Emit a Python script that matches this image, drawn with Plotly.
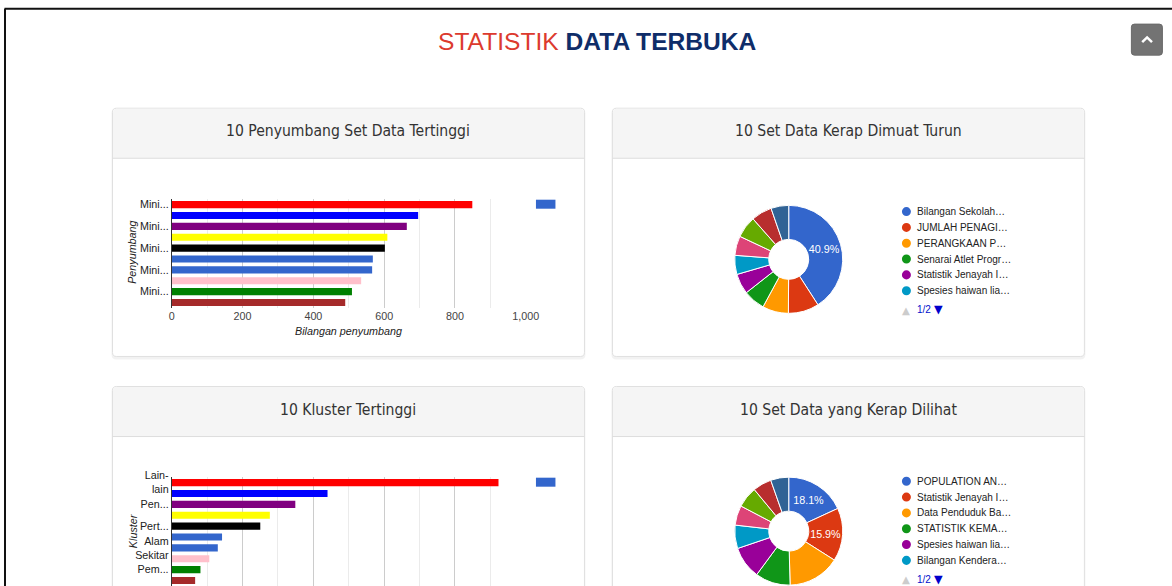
import plotly.graph_objects as go

W, H = 1186, 600

# ---------------- data ----------------
contributors = ["Penyumbang 1", "Penyumbang 2", "Penyumbang 3", "Penyumbang 4", "Penyumbang 5",
                "Penyumbang 6", "Penyumbang 7", "Penyumbang 8", "Penyumbang 9", "Penyumbang 10"]
contrib_values = [849, 696, 664, 609, 602, 568, 566, 535, 509, 490]
contrib_ticks = ["Mini...", "Mini...", "Mini...", "Mini...", "Mini..."]

clusters = ["Lain-lain", "Kluster 2", "Pen...", "Kluster 4", "Pert...",
            "Kluster 6", "Alam Sekitar", "Kluster 8", "Pem...", "Kluster 10"]
cluster_values = [92.3, 44.0, 34.9, 27.7, 25.0, 14.2, 13.0, 10.6, 8.1, 6.6]
cluster_ticks = ["Lain-<br>lain", "Pen...", "Pert...", "Alam<br>Sekitar", "Pem..."]

bar_colors = ["#ff0000", "#0000ff", "#800080", "#ffff00", "#000000",
              "#3366cc", "#3366cc", "#ffc0cb", "#008000", "#a52a2a"]

download_labels = ["Bilangan Sekolah…", "JUMLAH PENAGI…", "PERANGKAAN P…", "Senarai Atlet Progr…",
                   "Statistik Jenayah I…", "Spesies haiwan lia…", "Set data 7", "Set data 8",
                   "Set data 9", "Set data 10"]
download_values = [40.9, 9.2, 7.8, 6.5, 6.1, 5.7, 5.8, 6.5, 6.2, 5.3]

view_labels = ["POPULATION AN…", "Statistik Jenayah I…", "Data Penduduk Ba…", "STATISTIK KEMA…",
               "Spesies haiwan lia…", "Bilangan Kendera…", "Set data 7", "Set data 8",
               "Set data 9", "Set data 10"]
view_values = [18.1, 15.9, 15.6, 10.5, 9.7, 7.0, 5.9, 6.3, 5.6, 5.4]

pie_colors = ["#3366cc", "#dc3912", "#ff9900", "#109618", "#990099",
              "#0099c6", "#dd4477", "#66aa00", "#b82e2e", "#316395"]

card_titles = ["10 Penyumbang Set Data Tertinggi", "10 Set Data Kerap Dimuat Turun",
               "10 Kluster Tertinggi", "10 Set Data yang Kerap Dilihat"]

# ---------------- helpers (positions given in photographed-picture pixels) ----------------
AX, BX = 0.9866, 2.5
AY, BY = 0.964, 7.9
FS = 1.025


def px(x):
    return ((x - BX) / AX) / W


def py(y):
    return 1 - ((y - BY) / AY) / H


def rrect_path(x0, y0, x1, y1, r, top_only=False):
    rb = 0 if top_only else r
    pts = (f"M{px(x0 + r)},{py(y0)} L{px(x1 - r)},{py(y0)} Q{px(x1)},{py(y0)} {px(x1)},{py(y0 + r)} "
           f"L{px(x1)},{py(y1 - rb)} Q{px(x1)},{py(y1)} {px(x1 - rb)},{py(y1)} "
           f"L{px(x0 + rb)},{py(y1)} Q{px(x0)},{py(y1)} {px(x0)},{py(y1 - rb)} "
           f"L{px(x0)},{py(y0 + r)} Q{px(x0)},{py(y0)} {px(x0 + r)},{py(y0)} Z")
    return pts


def note(text, x, y, size, color="#222222", family="Liberation Sans, Arial", xanchor="center", **kw):
    return dict(text=text, x=px(x), y=py(y), xref="paper", yref="paper", showarrow=False,
                xanchor=xanchor, yanchor="middle", font=dict(family=family, size=size * FS, color=color), **kw)


shapes = []
annotations = []

# outer page border (top & left)
shapes.append(dict(type="line", xref="paper", yref="paper", x0=px(4), x1=1, y0=0.9985, y1=0.9985,
                   line=dict(color="#111111", width=2)))
shapes.append(dict(type="line", xref="paper", yref="paper", x0=px(4.5), x1=px(4.5), y0=0.9985, y1=0,
                   line=dict(color="#111111", width=2)))

# page title
annotations.append(note(
    "<span style='color:#dc3a2e'>STATISTIK</span> <b><span style='color:#0f2d69'>DATA TERBUKA</span></b>",
    597.5, 41, 24))

# scroll-to-top button
shapes.append(dict(type="path", xref="paper", yref="paper", path=rrect_path(1131, 24, 1162, 55, 3),
                   fillcolor="#737373", line=dict(color="#6a6a6a", width=1), layer="above"))
shapes.append(dict(type="path", xref="paper", yref="paper",
                   path=f"M{px(1141.8)},{py(42)} L{px(1146.7)},{py(37.3)} L{px(1151.6)},{py(42)}",
                   line=dict(color="#ffffff", width=2.5), layer="above"))

# cards
cards = [(112, 108, 584, 356), (612, 108, 1084, 356), (112, 386, 584, 640), (612, 386, 1084, 640)]
for (x0, y0, x1, y1), title in zip(cards, card_titles):
    shapes.append(dict(type="path", xref="paper", yref="paper", path=rrect_path(x0 - 1, y0, x1 + 1, y1 + 3, 5),
                       fillcolor="rgba(0,0,0,0.05)", line=dict(width=0), layer="below"))
    shapes.append(dict(type="path", xref="paper", yref="paper", path=rrect_path(x0, y0, x1, y1, 4),
                       fillcolor="#ffffff", line=dict(color="#e0e0e0", width=1), layer="below"))
    shapes.append(dict(type="path", xref="paper", yref="paper", path=rrect_path(x0 + 0.5, y0 + 0.5, x1 - 0.5, y0 + 50, 4, top_only=True),
                       fillcolor="#f5f5f5", line=dict(width=0), layer="below"))
    shapes.append(dict(type="line", xref="paper", yref="paper", x0=px(x0), x1=px(x1), y0=py(y0 + 50), y1=py(y0 + 50),
                       line=dict(color="#dddddd", width=1), layer="below"))
    annotations.append(note(title, (x0 + x1) / 2, y0 + 23, 15.2, "#333333",
                            "DejaVu Sans Condensed, Liberation Sans Narrow, Arial"))

fig = go.Figure()

# ---------------- bar charts ----------------
bar_specs = [
    dict(cats=contributors, vals=contrib_values, ticks=contrib_ticks, top=198.9, rng=[0, 1000], dt=200,
         mdt=100, xa="x", ya="y", ytitle="Penyumbang", xtitle="Bilangan penyumbang", ytc=252,
         xtickcolor="#444444"),
    dict(cats=clusters, vals=cluster_values, ticks=cluster_ticks, top=476.6, rng=[0, 100], dt=20,
         mdt=10, xa="x2", ya="y2", ytitle="Kluster", xtitle="Bilangan set data", ytc=530,
         xtickcolor="rgba(68,68,68,0)"),
]
row_h = 10.86
for i, s in enumerate(bar_specs):
    fig.add_trace(go.Bar(orientation="h", y=s["cats"], x=s["vals"], marker=dict(color=bar_colors, line=dict(width=0)),
                         xaxis=s["xa"], yaxis=s["ya"], showlegend=False, width=0.66))
    top = s["top"]
    bottom = top + row_h * len(s["cats"])
    sfx = "" if i == 0 else "2"
    fig.layout["xaxis" + sfx] = dict(
        domain=[px(171.3), px(525.3)], range=s["rng"], dtick=s["dt"], tick0=0, tickformat=",",
        showgrid=True, gridcolor="#cccccc", gridwidth=1,
        minor=dict(dtick=s["mdt"], tick0=0, showgrid=True, gridcolor="#ebebeb", gridwidth=1),
        zeroline=False, showline=False, ticks="", anchor="y" + sfx,
        tickfont=dict(family="Liberation Sans, Arial", size=10.5 * FS, color=s["xtickcolor"]), fixedrange=True)
    fig.layout["yaxis" + sfx] = dict(
        domain=[max(py(bottom), 0), py(top)], type="category", autorange="reversed",
        tickvals=s["cats"][::2], ticktext=s["ticks"], showgrid=False, zeroline=False,
        showline=True, linecolor="#333333", linewidth=1, ticks="", anchor="x" + sfx,
        tickfont=dict(family="Liberation Sans, Arial", size=10.5 * FS, color="#222222"), fixedrange=True)
    annotations.append(note(f"<i>{s['ytitle']}</i>", 132, s["ytc"], 10.5, textangle=-90))
    if i == 0:
        annotations.append(note(f"<i>{s['xtitle']}</i>", 348, bottom + 23.5, 10.5))
    # legend swatch (single unnamed series)
    shapes.append(dict(type="rect", xref="paper", yref="paper", x0=px(535.5), x1=px(555), y0=py(top + 0.5), y1=py(top + 9.5),
                       fillcolor="#3366cc", line=dict(width=0)))

# ---------------- donut charts ----------------
pie_specs = [
    dict(labels=download_labels, vals=download_values, cy=259, nshow=1, ly=211.3),
    dict(labels=view_labels, vals=view_values, cy=530.5, nshow=2, ly=480.7),
]
for s in pie_specs:
    cx, cy, r = 788.3, s["cy"], 54
    tt = ["%{percent:.1%}" if k < s["nshow"] else "" for k in range(len(s["vals"]))]
    fig.add_trace(go.Pie(labels=s["labels"], values=s["vals"], hole=0.37, sort=False, direction="clockwise",
                         rotation=0, marker=dict(colors=pie_colors, line=dict(color="#ffffff", width=1)),
                         texttemplate=tt, textposition="inside", insidetextorientation="horizontal",
                         insidetextfont=dict(family="Liberation Sans, Arial", size=10.5 * FS, color="#ffffff"),
                         domain=dict(x=[px(cx - r), px(cx + r)], y=[max(py(cy + r), 0), py(cy - r)]),
                         showlegend=False))
    # legend (page 1 of 2)
    for k in range(6):
        yy = s["ly"] + k * 15.8
        shapes.append(dict(type="circle", xref="paper", yref="paper", x0=px(901.5), x1=px(910.5),
                           y0=py(yy + 4.5), y1=py(yy - 4.5), fillcolor=pie_colors[k], line=dict(width=0)))
        annotations.append(note(s["labels"][k], 915, yy, 9.8, xanchor="left"))
    ny = s["ly"] + 98
    annotations.append(note("▲", 905.5, ny, 10, "#cccccc", "DejaVu Sans"))
    annotations.append(note("1/2", 914.5, ny, 9.8, "#0011cc", xanchor="left"))
    annotations.append(note("▼", 938.5, ny, 11, "#0000cc", "DejaVu Sans"))

fig.update_layout(width=W, height=H, margin=dict(l=0, r=0, t=0, b=0),
                  paper_bgcolor="#ffffff", plot_bgcolor="rgba(0,0,0,0)",
                  shapes=shapes, annotations=annotations, bargap=0.34,
                  font=dict(family="Liberation Sans, Arial"))

fig.write_html("out.html", config={"displayModeBar": False},
               post_script="document.body.style.margin='0';document.body.style.overflow='hidden';")
